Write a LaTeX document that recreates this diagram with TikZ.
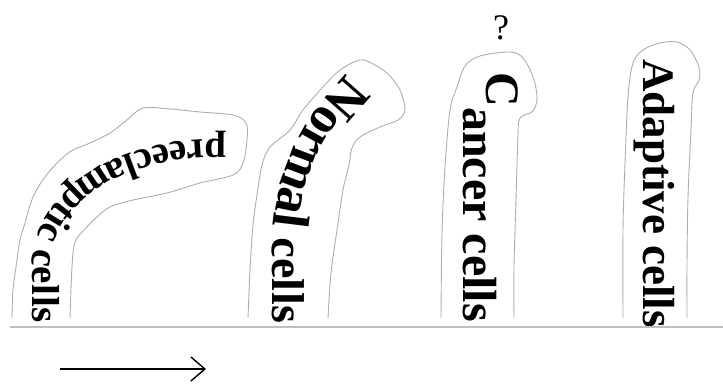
\documentclass[tikz,border=0pt]{standalone}
\usepackage{fontspec}
\setmainfont{Liberation Serif}
\usetikzlibrary{decorations.text,arrows.meta}
\begin{document}
\begin{tikzpicture}[x=1pt,y=-1pt,
  outline/.style={draw=black!32, line width=0.9pt},
  vlabel/.style={rotate=-90, anchor=base west, inner sep=0pt, font=\bfseries\fontsize{48}{48}\selectfont}]
\useasboundingbox (0,0) rectangle (723,388);
% outlines
\draw[outline] plot[smooth, tension=0.55] coordinates {(12,318) (13,290) (17,260) (20,240) (25,223) (33,197) (45,177) (60,160) (73,150) (90,143) (110,133) (127,120) (143,108) (170,109) (200,112) (233,115) (246,123) (247,140) (243,163) (233,175) (200,183) (167,193) (133,200) (110,207) (97,217) (85,229) (75,242) (72,267) (70,318)};
\draw[outline] plot[smooth, tension=0.55] coordinates {(248,318) (250,270) (253,225) (257,195) (262,165) (270,147) (290,130) (303,110) (323,87) (340,70) (360,60) (373,64) (388,74) (400,90) (405,110) (398,120) (380,127) (360,137) (352,148) (349,165) (343,190) (337,230) (331,273) (328,318)};
\draw[outline] plot[smooth, tension=0.55] coordinates {(441,318) (442,233) (445,167) (450,110) (457,87) (465,66) (480,56) (510,52) (523,58) (533,77) (537,97) (533,111) (520,118) (518,135) (516,200) (514,267) (514,318)};
\draw[outline] plot[smooth, tension=0.55] coordinates {(623,318) (623,230) (625,163) (628,97) (633,63) (643,50) (660,43) (677,42) (690,50) (699,67) (699,80) (693,93) (691,130) (688,197) (687,263) (687,318)};
% curved labels
\path[decorate, decoration={text along path, text align={fit to path},
  text={|\bfseries\fontsize{39}{39}\selectfont|preeclamptic cells}}]
  (226,140) .. controls (120,135) and (35,190) .. (32,265) -- (32,323);
\path[decorate, decoration={text along path, text align={fit to path},
  text={|\bfseries\fontsize{52}{52}\selectfont|Normal|\bfseries\fontsize{46}{46}\selectfont| cells}}]
  (347,74) .. controls (296,126) and (273,180) .. (272,250) -- (272,323);
% straight labels
\node[vlabel] (cancerC) at (486,72) {C};
\node[vlabel] (cancer) at (463,107) {ancer cells};
\node[vlabel, font=\bfseries\fontsize{45}{45}\selectfont] (adaptive) at (643,59) {Adaptive cells};
\node[inner sep=0pt, anchor=base, font=\fontsize{36}{36}\selectfont] (q) at (501,39) {?};
% ground line and arrow
\coordinate (g1) at (10,327);
\coordinate (g2) at (723,327);
\draw[black!25, line width=1.2pt] (g1) -- (g2);
\coordinate (a1) at (60,369);
\coordinate (a2) at (206,369);
\draw[line width=1.4pt, -{Straight Barb[length=14pt, width=24pt, line width=1.4pt]}] (a1) -- (a2);
\end{tikzpicture}
\end{document}
